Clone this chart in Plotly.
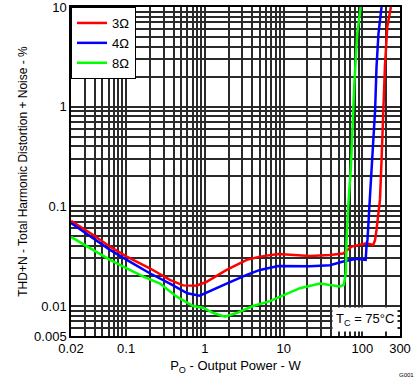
import math
import plotly.graph_objects as go

# ---- data ----
x_3ohm = [0.02, 0.0384, 0.0625, 0.102, 0.2, 0.36, 0.53, 0.78, 1.04, 1.89, 3.4, 5.0, 8.55,
          21.6, 38.7, 57, 73, 113, 137, 145, 151, 167, 175, 184, 193, 207, 230]
y_3ohm = [0.0714, 0.0516, 0.0394, 0.0313, 0.0239, 0.0183, 0.0161, 0.016, 0.0174, 0.023, 0.029,
          0.0313, 0.0333, 0.0318, 0.0324, 0.0336, 0.0394, 0.0425, 0.041, 0.046, 0.058, 0.116,
          0.29, 0.79, 2.52, 6.35, 10]

x_4ohm = [0.02, 0.0384, 0.0625, 0.102, 0.2, 0.36, 0.6, 0.86, 1.28, 1.89, 3.4, 5.0, 8.55,
          21.6, 38.7, 57, 84, 110, 113, 116, 124, 137, 145, 151, 160, 175]
y_4ohm = [0.068, 0.0479, 0.0366, 0.029, 0.0213, 0.0168, 0.0134, 0.0127, 0.0145, 0.0168, 0.0205,
          0.023, 0.0252, 0.025, 0.0257, 0.0279, 0.0297, 0.029, 0.041, 0.046, 0.116, 0.46, 0.93,
          2.5, 5.45, 10]

x_8ohm = [0.02, 0.0384, 0.0625, 0.102, 0.166, 0.27, 0.44, 0.71, 0.95, 1.28, 1.8, 2.53, 4.1,
          6.7, 9.0, 16.1, 28.9, 38.7, 51.9, 58, 61.6, 63, 66, 71.5, 75.5, 79, 86, 95]
y_8ohm = [0.0493, 0.0366, 0.029, 0.0239, 0.0197, 0.0168, 0.0124, 0.01, 0.0096, 0.0085, 0.0078,
          0.0085, 0.01, 0.0112, 0.0124, 0.0151, 0.0168, 0.0163, 0.0157, 0.0163, 0.0214, 0.046,
          0.099, 0.25, 0.79, 1.72, 5.45, 10]

x_tickvals = [0.02, 0.1, 1, 10, 100, 300]
x_ticktext = ["0.02", "0.1", "1", "10", "100", "300"]
y_tickvals = [0.005, 0.01, 0.1, 1, 10]
y_ticktext = ["0.005", "0.01", "0.1", "1", "10"]

# grid positions (1..9 x decade)
def grid_vals(lo, hi):
    vals = []
    for e in range(-4, 4):
        for m in range(1, 10):
            v = round(m * 10 ** e, 6)
            if lo - 1e-9 <= v <= hi + 1e-9:
                vals.append(v)
    return vals

xg = grid_vals(0.02, 300)
yg = grid_vals(0.005, 10)

font = "Liberation Sans, Arial, sans-serif"
grid_color = "#2a2a2a"

fig = go.Figure()
fig.add_trace(go.Scatter(x=x_3ohm, y=y_3ohm, mode="lines", name="3Ω",
                         line=dict(color="#ff0000", width=2.5)))
fig.add_trace(go.Scatter(x=x_4ohm, y=y_4ohm, mode="lines", name="4Ω",
                         line=dict(color="#0000ff", width=2.5)))
fig.add_trace(go.Scatter(x=x_8ohm, y=y_8ohm, mode="lines", name="8Ω",
                         line=dict(color="#00ff00", width=2.5)))

fig.update_layout(
    width=419, height=382,
    margin=dict(l=71, r=19, t=7, b=46),
    paper_bgcolor="white", plot_bgcolor="white",
    font=dict(family=font, size=13, color="black"),
    showlegend=True,
    legend=dict(x=0, y=1, xanchor="left", yanchor="top", bgcolor="white",
                bordercolor="black", borderwidth=1, font=dict(size=13),
                tracegroupgap=0, itemwidth=30),
    xaxis=dict(type="log", range=[math.log10(0.02), math.log10(300)],
               tickmode="array", tickvals=x_tickvals, ticktext=x_ticktext,
               showgrid=True, gridcolor=grid_color, gridwidth=1.5,
               minor=dict(tickvals=xg, showgrid=True, gridcolor=grid_color, gridwidth=1.5, ticks=""),
               showline=True, linecolor="black", linewidth=1.5, mirror=True,
               ticks="", zeroline=False, automargin=False, ticklabeloverflow="allow",
               title=dict(text="P<sub>O</sub> - Output Power - W", font=dict(size=13), standoff=6),
               tickfont=dict(size=13)),
    yaxis=dict(type="log", range=[math.log10(0.005), 1],
               tickmode="array", tickvals=y_tickvals, ticktext=y_ticktext,
               showgrid=True, gridcolor=grid_color, gridwidth=1.5,
               minor=dict(tickvals=yg, showgrid=True, gridcolor=grid_color, gridwidth=1.5, ticks=""),
               showline=True, linecolor="black", linewidth=1.5, mirror=True,
               ticks="", zeroline=False, automargin=False, ticklabeloverflow="allow",
               title=dict(text="THD+N - Total Harmonic Distortion + Noise - %", font=dict(size=12), standoff=4),
               tickfont=dict(size=13)),
    annotations=[
        dict(x=0.995, y=0.012, xref="paper", yref="paper", xanchor="right", yanchor="bottom",
             text="T<sub>C</sub> = 75°C", showarrow=False, bgcolor="white",
             font=dict(size=13), borderpad=3),
        dict(x=0.99, y=-0.118, xref="paper", yref="paper", xanchor="left", yanchor="middle",
             text="G001", showarrow=False, font=dict(size=6)),
    ],
)

fig.write_html("out.html", config={"displayModeBar": False},
               post_script="document.body.style.margin='0';")
